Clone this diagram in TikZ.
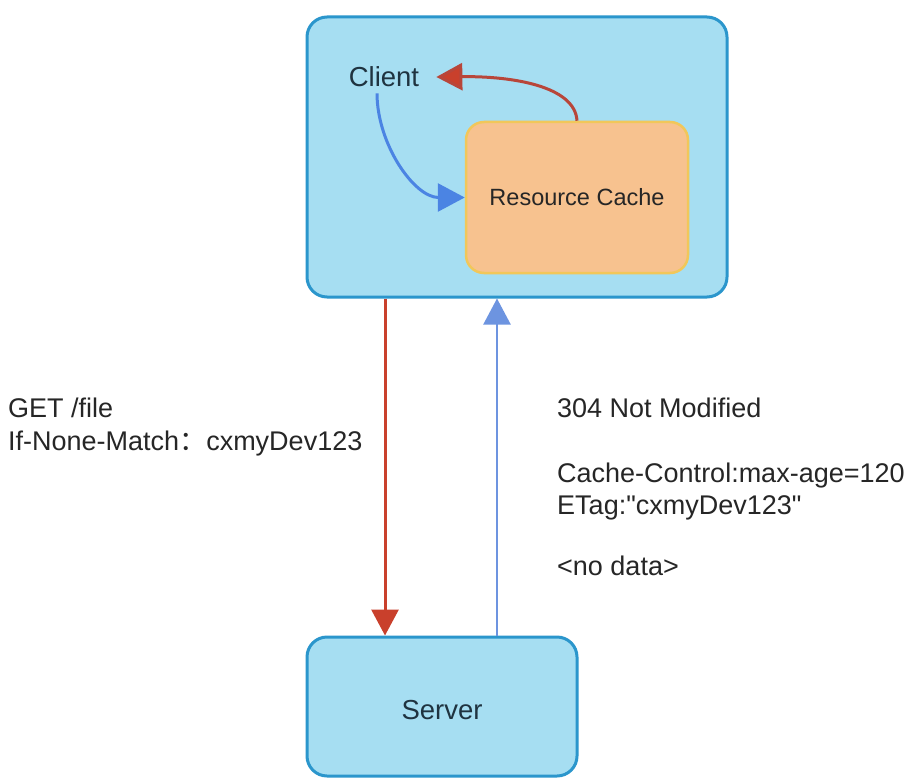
\documentclass[tikz,border=0pt]{standalone}
\usepackage{fontspec}
\setmainfont{Liberation Sans}
\newfontfamily\cjk{Noto Sans CJK SC}
\usetikzlibrary{arrows.meta}
\definecolor{boxfill}{HTML}{A6DEF2}
\definecolor{boxline}{HTML}{2B96CC}
\definecolor{cachefill}{HTML}{F7C28F}
\definecolor{cacheline}{HTML}{F1C75A}
\definecolor{redarr}{HTML}{C9402C}
\definecolor{redcurve}{HTML}{B8463A}
\definecolor{bluearr}{HTML}{4B84E3}
\definecolor{bluevert}{HTML}{6D94E0}
\definecolor{nodetext}{HTML}{1F3340}
\definecolor{labeltext}{HTML}{262626}
\tikzset{
  bluebox/.style={draw=boxline, fill=boxfill, line width=3pt, rounded corners=20pt, inner sep=0pt},
  cachebox/.style={draw=cacheline, fill=cachefill, line width=2.5pt, rounded corners=18pt, inner sep=0pt,
    font=\fontsize{23.5}{28}\selectfont, text=labeltext},
  nodelabel/.style={font=\fontsize{27.5}{33}\selectfont, text=nodetext},
  msglabel/.style={font=\fontsize{27}{32.5}\selectfont, text=labeltext, align=left, inner sep=0pt},
  redline/.style={draw=redarr, line width=3pt, -{Triangle[length=26pt,width=27pt]}},
  redcline/.style={draw=redcurve, line width=3pt, -{Triangle[length=26pt,width=27pt,fill=redarr]}},
  blueline/.style={draw=bluearr, line width=3pt, -{Triangle[length=27pt,width=28pt]}},
  bluevline/.style={draw=bluevert, line width=2.2pt, -{Triangle[length=26pt,width=27pt]}, bluevert}
}
\begin{document}
\begin{tikzpicture}[x=1pt,y=-1pt]
\useasboundingbox (0,0) rectangle (920,778);
\fill[white] (0,0) rectangle (920,778);
% boxes
\node[bluebox, minimum width=420pt, minimum height=280pt] (clientbox) at (517,157) {};
\node[cachebox, minimum width=222pt, minimum height=151pt] (cache) at (577,197.5) {Resource Cache};
\node[nodelabel, inner xsep=17pt, inner ysep=6pt] (client) at (384,77) {Client};
\node[bluebox, nodelabel, minimum width=270pt, minimum height=139pt, text height=27pt] (server) at (442,706.5) {Server};
% curved arrows inside client
\draw[redcline] (cache.north) .. controls (575,86) and (512,76) .. (client.east);
\draw[blueline] ([xshift=-7pt]client.south) to[out=-90, in=180, looseness=0.95] (cache.west);
% vertical arrows
\coordinate (rx) at (385,0);
\coordinate (bx) at (497,0);
\draw[redline] (clientbox.south -| rx) -- (server.north -| rx);
\draw[bluevline] (server.north -| bx) -- (clientbox.south -| bx);
% message labels
\node[msglabel, anchor=base west] (req) at (8,450) {GET /file\\If-None-Match{\cjk ：}cxmyDev123};
\node[msglabel, anchor=base west] (resp) at (557,575) {304 Not Modified\\[32.5pt]Cache-Control:max-age=120\\ETag:\textquotedbl cxmyDev123\textquotedbl\\[28pt]<no data>};
\end{tikzpicture}
\end{document}
